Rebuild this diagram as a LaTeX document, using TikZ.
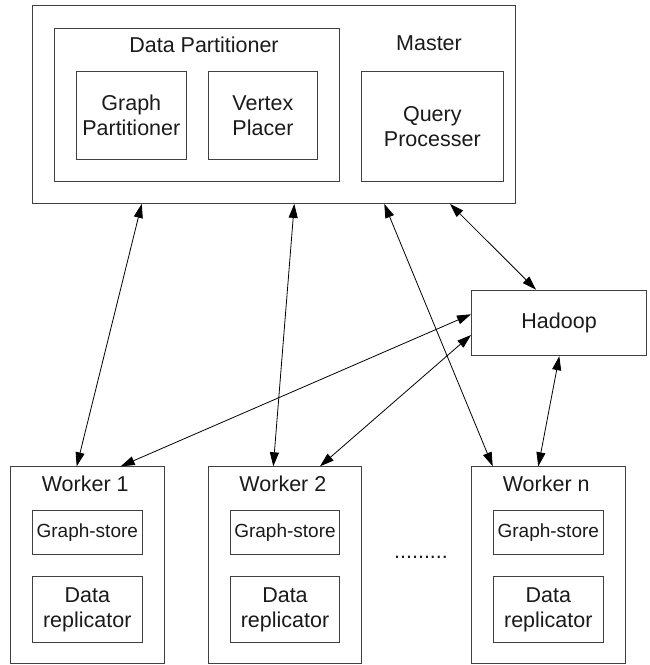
\documentclass[tikz,border=0pt]{standalone}
\usepackage{fontspec}
\setmainfont{Liberation Sans}
\usetikzlibrary{arrows.meta,calc}
\definecolor{boxgray}{HTML}{404040}
\definecolor{txt}{HTML}{1A1A1A}
\newcommand{\mainf}{\fontsize{21.5}{25}\selectfont}
\newcommand{\smallf}{\fontsize{19}{22}\selectfont}
\tikzset{
  box/.style={draw=boxgray, line width=0.9pt, inner sep=0pt, anchor=north west, align=center, font=\mainf, text=txt},
  lbl/.style={inner sep=0pt, font=\mainf, text=txt},
  arr/.style={{Triangle[length=14pt,width=9pt]}-{Triangle[length=14pt,width=9pt]}, line width=0.8pt, black}
}
\begin{document}
\begin{tikzpicture}[x=1pt,y=-1pt]
\useasboundingbox (0,0) rectangle (650,665);
% Master
\node[box, minimum width=483pt, minimum height=198pt] (master) at (32,5) {};
\node[box, minimum width=285pt, minimum height=153.5pt] (dp) at (54,27.5) {};
\node[lbl] (dptxt) at (204,45) {Data Partitioner};
\node[lbl] (mtxt) at (429,43) {Master};
\node[box, minimum width=109.7pt, minimum height=88pt] (gp) at (76,71) {Graph\\Partitioner};
\node[box, minimum width=109.6pt, minimum height=88pt] (vp) at (207.7,71) {Vertex\\Placer};
\node[box, minimum width=141.7pt, minimum height=110pt] (qp) at (361,71) {Query\\Processer};
% Hadoop
\node[box, minimum width=175.3pt, minimum height=65.6pt] (hadoop) at (471,289.7) {Hadoop};
% Workers
\foreach \n/\x/\t in {w1/10/Worker 1, w2/207.7/Worker 2, wn/471/Worker n}{
  \node[box, minimum width=153.5pt, minimum height=197pt] (\n) at (\x,466.3) {};
  \node[lbl] (\n t) at ($(\n.north)+(-2,18)$) {\t};
  \node[box, minimum width=109.7pt, minimum height=44pt, font=\smallf] (\n gs) at ($(\n.north west)+(22,44)$) {Graph-store};
  \node[box, minimum width=109.7pt, minimum height=66pt] (\n dr) at ($(\n.north west)+(22,109.7)$) {Data\\replicator};
}
\node[lbl, anchor=base] (dots) at (421,558) {.........};
% Connectors
\draw[arr] ($(master.south west)+(109.7,0)$) -- ($(w1.north west)+(66.7,0)$);
\draw[arr] ($(master.south west)+(262.3,0)$) -- ($(w2.north west)+(65.6,0)$);
\draw[arr] ($(master.south west)+(352.3,0)$) -- ($(wn.north west)+(21.7,0)$);
\draw[arr] ($(master.south west)+(418,0)$) -- ($(hadoop.north west)+(65,0)$);
\draw[arr] ($(hadoop.north west)+(0,24.6)$) -- ($(w1.north west)+(110.7,0)$);
\draw[arr] ($(hadoop.north west)+(0,45.3)$) -- ($(w2.north west)+(112.3,0)$);
\draw[arr] ($(hadoop.south west)+(88.3,0)$) -- ($(wn.north west)+(67.3,0)$);
\end{tikzpicture}
\end{document}
